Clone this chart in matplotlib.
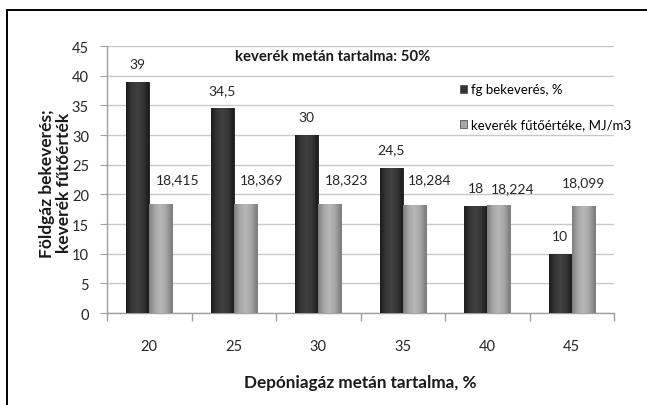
import matplotlib
matplotlib.use("Agg")
import matplotlib.pyplot as plt
import numpy as np
from matplotlib.lines import Line2D
from matplotlib.colors import LinearSegmentedColormap

plt.rcParams['font.family'] = ['Lato', 'DejaVu Sans']

categories = ["20", "25", "30", "35", "40", "45"]
fg_bekeveres = [39, 34.5, 30, 24.5, 18, 10]
futoertek = [18.415, 18.369, 18.323, 18.284, 18.224, 18.099]
fg_labels = ["39", "34,5", "30", "24,5", "18", "10"]
futo_labels = ["18,415", "18,369", "18,323", "18,284", "18,224", "18,099"]
yticks = [0, 5, 10, 15, 20, 25, 30, 35, 40, 45]

series_names = ["fg bekeverés, %", "keverék fűtőértéke, MJ/m3"]
title_text = "keverék metán tartalma: 50%"
xlabel_text = "Depóniagáz metán tartalma, %"
ylabel_text = "Földgáz bekeverés;\nkeverék fűtőérték"

# label nudges (points) for the heating-value series
futo_dx = [12, 12, 12, 11, 10, 0]
futo_dy = [18, 18, 18, 18, 12, 17]

fig = plt.figure(figsize=(6.47, 4.06), dpi=100)
ax = fig.add_axes([0.1654, 0.2266, 0.7836, 0.6574])

x = np.arange(len(categories))
w = 0.27

dark_cmap = LinearSegmentedColormap.from_list(
    "dark", ["#1c1c1c", "#363636", "#404040", "#363636", "#1c1c1c"])
light_cmap = LinearSegmentedColormap.from_list(
    "light", ["#7e7e7e", "#a6a6a6", "#b8b8b8", "#a6a6a6", "#7e7e7e"])

b1 = ax.bar(x - w / 2, fg_bekeveres, w, color="#333333", edgecolor="#1a1a1a",
            linewidth=0.6, zorder=3, label=series_names[0])
b2 = ax.bar(x + w / 2, futoertek, w, color="#a6a6a6", edgecolor="#6f6f6f",
            linewidth=0.6, zorder=3, label=series_names[1])

# cylindrical shading inside each bar
grad = np.linspace(0, 1, 64).reshape(1, -1)
for bars, cmap in ((b1, dark_cmap), (b2, light_cmap)):
    for rect in bars:
        x0, y0 = rect.get_x(), rect.get_y()
        im = ax.imshow(grad, cmap=cmap, aspect="auto", zorder=3.5,
                       extent=[x0, x0 + rect.get_width(), y0, y0 + rect.get_height()])
        im.set_clip_path(rect)
ax.set_xlim(-0.5, len(categories) - 0.5)
ax.set_ylim(0, 45)

for xi, v, s in zip(x, fg_bekeveres, fg_labels):
    ax.annotate(s, (xi - w / 2, v), xytext=(0, 13), textcoords="offset points",
                ha="center", va="center", fontsize=10, color="#262626")
for xi, v, s, dx, dy in zip(x, futoertek, futo_labels, futo_dx, futo_dy):
    ax.annotate(s, (xi + w / 2, v), xytext=(dx, dy), textcoords="offset points",
                ha="center", va="center", fontsize=10, color="#262626")

ax.set_yticks(yticks)
ax.set_xticks(x)
ax.set_xticklabels(categories)
ax.set_xticks(np.arange(-0.5, len(categories)), minor=True)
ax.tick_params(axis="x", which="major", length=0, pad=19, labelsize=10.5, colors="#262626")
ax.tick_params(axis="x", which="minor", length=6, color="#a0a0a0", width=1)
ax.tick_params(axis="y", length=5, color="#a0a0a0", labelsize=10.5, labelcolor="#262626", pad=8)

ax.grid(axis="y", color="#c8c8c8", linewidth=1, zorder=0)
ax.set_axisbelow(True)
for sp in ("top", "right"):
    ax.spines[sp].set_visible(False)
for sp in ("left", "bottom"):
    ax.spines[sp].set_color("#a0a0a0")
    ax.spines[sp].set_linewidth(1)

ax.text(0.446, 0.963, title_text, transform=ax.transAxes, ha="center", va="center",
        fontsize=10.7, fontweight="bold", color="#1a1a1a")

ax.set_xlabel(xlabel_text, fontsize=12.3, fontweight="bold", color="#1a1a1a")
ax.xaxis.set_label_coords(0.5, -0.258)
ax.xaxis.label.set_va("center")
ax.set_ylabel(ylabel_text, fontsize=12.5, fontweight="bold", color="#1a1a1a",
              linespacing=1.05)
ax.yaxis.set_label_coords(-0.102, 0.49)
ax.yaxis.label.set_va("center")

leg = ax.legend(loc="upper left", bbox_to_anchor=(0.685, 0.88), frameon=False,
                fontsize=9.5, handlelength=0.6, handleheight=0.6, handletextpad=0.3,
                labelspacing=1.75, borderaxespad=0)
for h in leg.legend_handles:
    h.set_edgecolor("#555555")

# outer frame
fig.add_artist(Line2D([7 / 647, 1], [1 - 11 / 406, 1 - 11 / 406], color="black", lw=1.4))
fig.add_artist(Line2D([7 / 647, 7 / 647], [0, 1 - 11 / 406], color="black", lw=1.4))

fig.savefig("out.png", dpi=100)
